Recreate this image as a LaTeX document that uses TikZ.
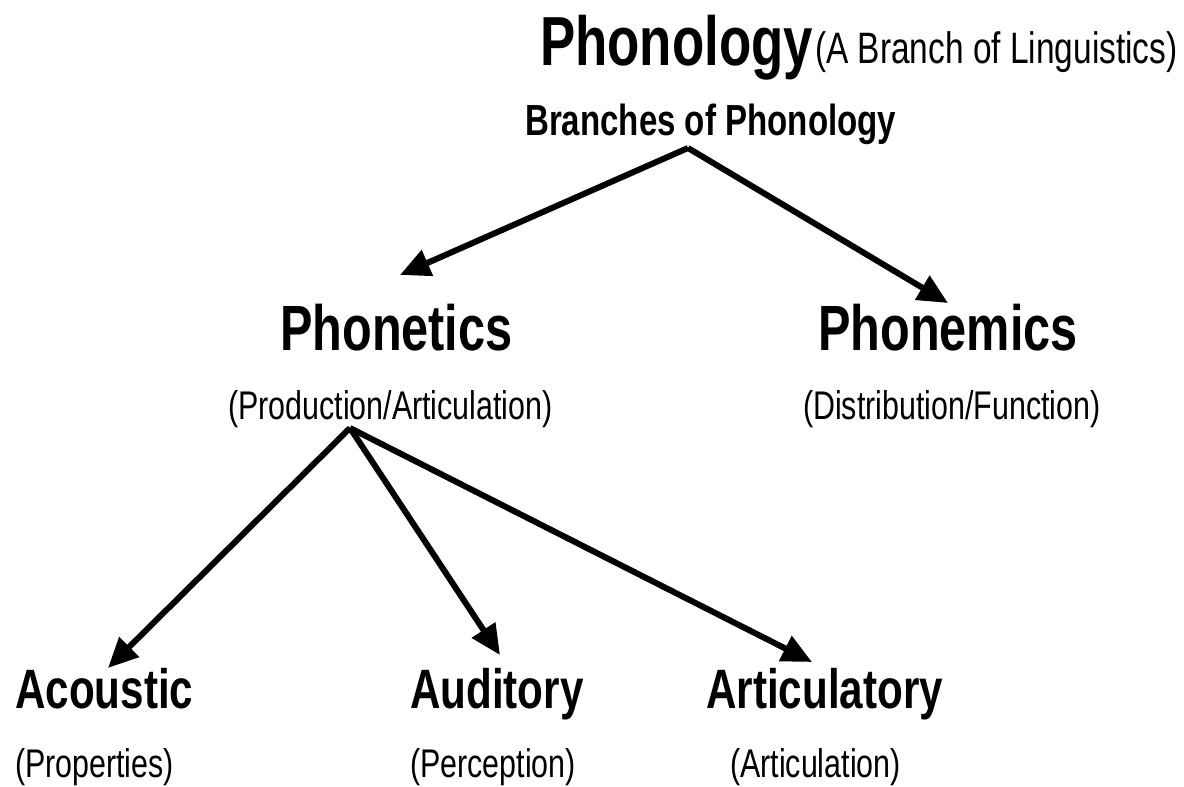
\documentclass[tikz,border=0pt]{standalone}
\usepackage{fontspec}
\setmainfont{Liberation Sans}
\usetikzlibrary{arrows.meta}
\begin{document}
\begin{tikzpicture}[x=1pt,y=-1pt,
  lbl/.style={inner sep=0pt,anchor=base west,xscale=0.76},
  big/.style={lbl,font=\fontsize{69.5}{72}\selectfont\bfseries},
  head/.style={lbl,font=\fontsize{64}{68}\selectfont\bfseries},
  leaf/.style={lbl,font=\fontsize{55.5}{60}\selectfont\bfseries},
  sub/.style={lbl,font=\fontsize{40}{44}\selectfont},
  arr/.style={line width=6pt,-{Triangle[length=30pt,width=27pt]}}]
\useasboundingbox (0,0) rectangle (1184,787);
\node[big] (title) at (540,65) {Phonology};
\node[lbl,font=\fontsize{44}{48}\selectfont] (titlesub) at (815,63) {(A Branch of Linguistics)};
\node[lbl,font=\fontsize{43.5}{47}\selectfont\bfseries] (branches) at (525,135) {Branches of Phonology};
\node[head] (phonetics) at (280,350) {Phonetics};
\node[head] (phonemics) at (818,350) {Phonemics};
\node[sub] (prod) at (228,419) {(Production/Articulation)};
\node[sub] (dist) at (803,419) {(Distribution/Function)};
\node[leaf] (acoustic) at (15,708) {Acoustic};
\node[leaf] (auditory) at (410,708) {Auditory};
\node[leaf] (artic) at (706,708) {Articulatory};
\node[sub] (props) at (15,777) {(Properties)};
\node[sub] (perc) at (410,777) {(Perception)};
\node[sub] (articn) at (730,777) {(Articulation)};
\coordinate (b0) at (688,148);
\coordinate (t1) at (400,275);
\coordinate (t2) at (948,303);
\coordinate (p0) at (350,428);
\coordinate (t3) at (108,668);
\coordinate (t4) at (500,655);
\coordinate (t5) at (812,662);
\draw[arr] (b0) -- (t1);
\draw[arr] (b0) -- (t2);
\draw[arr] (p0) -- (t3);
\draw[arr] (p0) -- (t4);
\draw[arr] (p0) -- (t5);
\end{tikzpicture}
\end{document}
